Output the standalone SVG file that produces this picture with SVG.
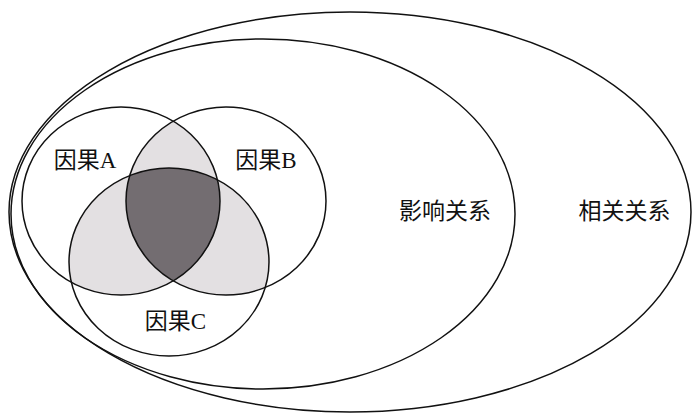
<svg xmlns="http://www.w3.org/2000/svg" width="696" height="414" viewBox="0 0 696 414">
  <style>
    .ring { fill: none; stroke: #111; stroke-width: 1.5; }
    .lbl { font-family: "Liberation Serif", "Noto Sans CJK SC", serif; font-size: 23px; fill: #111; text-anchor: middle; }
    .light { fill: #e3e0e2; }
    .dark { fill: #736d71; }
  </style>
  <defs>
    <clipPath id="clipA"><ellipse cx="121" cy="201" rx="99" ry="94"/></clipPath>
    <clipPath id="clipB"><ellipse cx="226" cy="201" rx="100" ry="94"/></clipPath>
    <clipPath id="clipAB" clip-path="url(#clipA)"><ellipse cx="226" cy="201" rx="100" ry="94"/></clipPath>
  </defs>
  <rect x="0" y="0" width="696" height="414" fill="#fff"/>

  <g id="shading">
    <ellipse class="light" cx="226" cy="201" rx="100" ry="94" clip-path="url(#clipA)"/>
    <ellipse class="light" cx="169" cy="262" rx="100" ry="94" clip-path="url(#clipA)"/>
    <ellipse class="light" cx="169" cy="262" rx="100" ry="94" clip-path="url(#clipB)"/>
    <ellipse class="dark" cx="169" cy="262" rx="100" ry="94" clip-path="url(#clipAB)"/>
  </g>

  <g id="correlation">
    <ellipse class="ring" cx="350" cy="212" rx="341" ry="200"/>
    <text class="lbl" x="624.5" y="219">相关关系</text>
  </g>
  <g id="influence">
    <ellipse class="ring" cx="263" cy="214" rx="252" ry="175"/>
    <text class="lbl" x="445" y="219">影响关系</text>
  </g>
  <g id="causalA">
    <ellipse class="ring" cx="121" cy="201" rx="99" ry="94"/>
    <text class="lbl" x="85" y="168">因果A</text>
  </g>
  <g id="causalB">
    <ellipse class="ring" cx="226" cy="201" rx="100" ry="94"/>
    <text class="lbl" x="266" y="168">因果B</text>
  </g>
  <g id="causalC">
    <ellipse class="ring" cx="169" cy="262" rx="100" ry="94"/>
    <text class="lbl" x="175.5" y="329">因果C</text>
  </g>
  <g id="connectors"/>
</svg>
